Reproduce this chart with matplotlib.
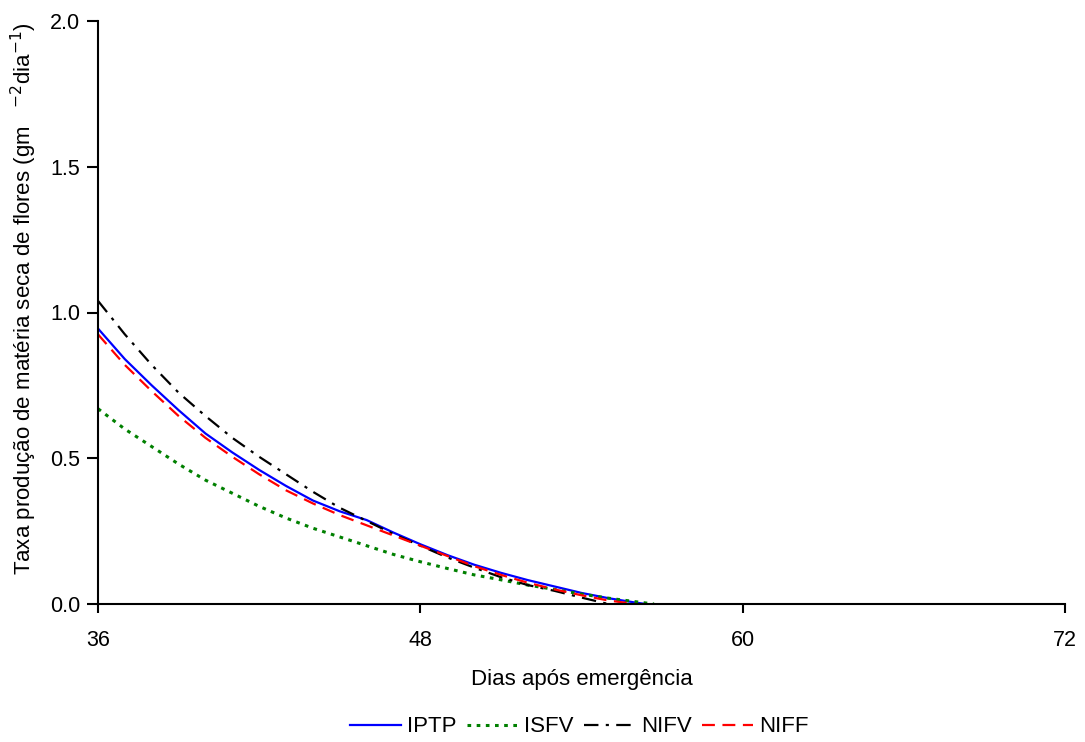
import matplotlib
matplotlib.use("Agg")
import matplotlib.pyplot as plt

plt.rcParams['font.family'] = ['Liberation Sans', 'DejaVu Sans']

days_iptp = [36, 37, 38, 39, 40, 41, 42, 43, 44, 45, 46, 47, 48, 49, 50, 51, 52, 53, 54, 55, 56, 56.4]
iptp = [0.945, 0.84, 0.75, 0.665, 0.585, 0.52, 0.46, 0.405, 0.355, 0.318, 0.288, 0.245, 0.205, 0.168,
        0.135, 0.107, 0.082, 0.06, 0.038, 0.02, 0.005, 0.0]

days_isfv = [36, 37, 38, 39, 40, 41, 42, 43, 44, 45, 46, 47, 48, 49, 50, 51, 52, 53, 54, 55, 56, 56.7]
isfv = [0.67, 0.6, 0.54, 0.48, 0.425, 0.38, 0.335, 0.295, 0.26, 0.23, 0.2, 0.17, 0.145, 0.122,
        0.1, 0.083, 0.065, 0.05, 0.034, 0.02, 0.008, 0.0]

days_nifv = [36, 37, 38, 39, 40, 41, 42, 43, 44, 45, 46, 47, 48, 49, 50, 51, 52, 53, 54, 55]
nifv = [1.04, 0.925, 0.82, 0.725, 0.645, 0.57, 0.505, 0.445, 0.385, 0.33, 0.285, 0.24, 0.2, 0.16,
        0.125, 0.092, 0.065, 0.045, 0.022, 0.0]

days_niff = [36, 37, 38, 39, 40, 41, 42, 43, 44, 45, 46, 47, 48, 49, 50, 51, 52, 53, 54, 55, 56]
niff = [0.925, 0.82, 0.73, 0.645, 0.57, 0.505, 0.445, 0.39, 0.345, 0.305, 0.27, 0.235, 0.2, 0.165,
        0.13, 0.1, 0.073, 0.05, 0.03, 0.012, 0.0]

x_ticks = [36, 48, 60, 72]
y_ticks = [0.0, 0.5, 1.0, 1.5, 2.0]

fig = plt.figure(figsize=(10.85, 7.42), dpi=100)
ax = fig.add_axes([98/1085, 1-604/742, (1065-98)/1085, (604-21)/742])

l1, = ax.plot(days_iptp, iptp, color='#0000ff', lw=1.6, ls='-', label='IPTP')
l2, = ax.plot(days_isfv, isfv, color='#008000', lw=2.2, ls=(0, (1.2, 1.8)), label='ISFV')
l3, = ax.plot(days_nifv, nifv, color='black', lw=1.6, ls=(0, (6.5, 3.3, 1.4, 3.3)), label='NIFV')
l4, = ax.plot(days_niff, niff, color='#ff0000', lw=1.6, ls=(0, (5.8, 3.4)), label='NIFF')

ax.set_xlim(36, 72)
ax.set_ylim(0, 2.0)
ax.set_xticks(x_ticks)
ax.set_yticks(y_ticks)
ax.set_yticklabels([f'{v:.1f}' for v in y_ticks])
for s in ['top', 'right']:
    ax.spines[s].set_visible(False)
for s in ['left', 'bottom']:
    ax.spines[s].set_linewidth(1.5)
ax.tick_params(axis='y', direction='out', length=8, width=1.5, labelsize=15.5, pad=5)
ax.tick_params(axis='x', direction='out', length=6.5, width=1.5, labelsize=15.5, pad=12.5)

ax.set_xlabel('Dias após emergência', fontsize=16, labelpad=13)
ax.set_ylabel('Taxa produção de matéria seca de flores (gm   $^{-2}$dia$^{-1}$)', fontsize=16)
ax.yaxis.set_label_coords(-0.061, 0.523)

fig.legend(handles=[l1, l2, l3, l4], loc='center', bbox_to_anchor=(0.534, 15/742), ncol=4,
           frameon=False, fontsize=16, handlelength=2.3, columnspacing=0.45, handletextpad=0.28,
           borderpad=0, borderaxespad=0)

fig.savefig('out.png', dpi=100)
